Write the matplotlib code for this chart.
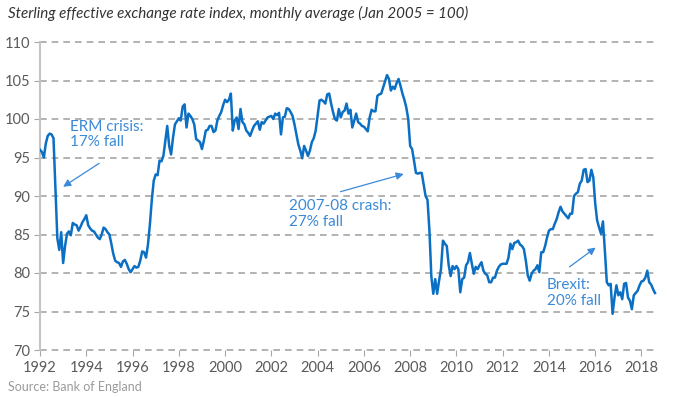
#!/usr/bin/env python3
"""
Sterling effective exchange rate index, monthly average (Jan 2005 = 100).
"""

import numpy as np
import matplotlib
matplotlib.use("Agg")
import matplotlib.pyplot as plt

# monthly values, Jan 1992 onwards
eri_1990s = [
    96.0, 95.7, 95.0, 96.8, 97.8, 98.1, 98.0, 97.5, 91.0, 84.5, 83.0, 85.3,   # 1992
    81.3, 83.5, 85.1, 85.4, 84.9, 86.5, 86.3, 86.2, 85.5, 86.0, 86.6, 87.0,   # 1993
    87.5, 86.2, 85.8, 85.5, 85.4, 85.0, 84.6, 84.4, 85.0, 85.9, 85.7, 85.3,   # 1994
    85.0, 83.8, 82.5, 81.6, 81.4, 81.3, 80.8, 81.5, 81.7, 81.2, 80.5, 80.1,   # 1995
    80.5, 80.9, 80.7, 80.8, 81.6, 82.8, 82.7, 82.0, 83.7, 86.3, 89.5, 92.0,   # 1996
    92.8, 92.7, 94.6, 94.5, 95.2, 97.2, 99.1, 96.5, 95.4, 97.6, 99.3, 99.7,   # 1997
    100.1, 99.8, 101.6, 101.9, 98.9, 100.7, 100.4, 100.0, 99.3, 97.4, 97.2, 97.0,  # 1998
    96.1, 97.2, 98.5, 98.6, 99.1, 99.1, 98.3, 98.5, 99.8, 100.4, 100.9, 101.8,     # 1999
]
eri_2000s = [
    102.5, 102.2, 102.5, 103.3, 98.5, 99.8, 100.2, 98.7, 101.3, 99.6, 99.3, 98.5,  # 2000
    98.2, 97.8, 98.5, 99.1, 99.4, 99.7, 98.6, 99.6, 99.4, 99.8, 100.2, 100.3,      # 2001
    100.4, 100.0, 100.7, 100.5, 100.8, 98.0, 100.2, 100.3, 101.4, 101.3, 100.9, 100.4,  # 2002
    99.3, 98.0, 96.7, 95.9, 94.9, 96.5, 95.9, 95.2, 95.9, 97.0, 97.5, 98.5,        # 2003
    100.5, 102.4, 102.5, 102.3, 102.0, 103.2, 103.3, 102.0, 100.9, 100.0, 99.8, 101.3,  # 2004
    100.2, 100.9, 101.1, 102.0, 100.7, 101.2, 98.9, 99.8, 100.7, 99.6, 99.4, 99.1,     # 2005
    99.0, 98.7, 98.4, 100.2, 101.2, 101.0, 101.0, 103.0, 103.2, 103.3, 104.1, 104.9,   # 2006
    105.7, 105.2, 103.7, 104.2, 103.9, 104.7, 105.2, 104.3, 103.3, 102.5, 101.5, 100.0,  # 2007
    96.5, 96.1, 94.6, 93.0, 92.9, 93.0, 93.0, 91.5, 90.0, 89.5, 85.5, 79.5,        # 2008
    77.3, 79.2, 77.3, 79.0, 80.5, 84.2, 83.8, 83.5, 81.0, 79.6, 80.9, 80.5,        # 2009
]
eri_2010s = [
    80.9, 80.5, 77.5, 79.2, 79.4, 81.0, 81.4, 82.6, 81.2, 79.9, 80.8, 80.5,   # 2010
    81.0, 81.4, 80.3, 79.9, 79.7, 78.8, 78.8, 79.4, 79.4, 80.3, 80.8, 81.1,   # 2011
    81.2, 81.2, 81.2, 82.0, 83.8, 83.1, 83.9, 84.0, 84.2, 83.7, 83.5, 83.1,   # 2012
    81.6, 79.7, 79.0, 79.9, 80.3, 80.5, 81.0, 80.1, 82.7, 82.7, 83.5, 84.6,   # 2013
    85.5, 85.7, 85.7, 86.4, 87.0, 87.9, 88.6, 88.0, 87.7, 87.4, 87.1, 87.7,   # 2014
    87.7, 90.0, 90.3, 90.5, 91.6, 92.0, 93.4, 93.5, 91.8, 92.0, 93.4, 92.4,   # 2015
    89.0, 86.8, 85.9, 85.1, 86.7, 82.9, 78.8, 78.4, 78.6, 74.7, 76.8, 78.4,   # 2016
    77.1, 77.5, 76.6, 78.6, 78.7, 76.8, 76.4, 75.3, 77.1, 77.4, 77.7, 78.4,   # 2017
    78.9, 79.0, 79.4, 80.3, 78.8, 78.5, 77.9, 77.4,                           # 2018
]

start_year = 1992
year_ticks = list(range(1992, 2019, 2))
y_ticks = [70, 75, 80, 85, 90, 95, 100, 105, 110]

line_blue = '#0b6fc4'
note_blue = '#3b8ad8'
tick_grey = '#5a5a5a'

values = np.array(eri_1990s + eri_2000s + eri_2010s)
dates = start_year + np.arange(len(values)) / 12.0

plt.rcParams['font.family'] = ['Lato', 'DejaVu Sans']

fig = plt.figure(figsize=(6.81, 3.97), dpi=100)
ax = fig.add_axes([40 / 681, 47 / 397, 617 / 681, 308 / 397])

x_end = 2018.67
ax.set_xlim(start_year, x_end)
ax.set_ylim(70, 110)

# dashed gridlines (the 70 line doubles as the x axis)
ax.hlines(y_ticks, start_year, x_end, colors='#a6a6a6', linewidth=1.2,
          linestyles=(0, (4, 3)), clip_on=False, zorder=1)

ax.plot(dates, values, color=line_blue, linewidth=1.8, zorder=3,
        solid_joinstyle='round')

for side in ['top', 'right', 'bottom']:
    ax.spines[side].set_visible(False)
ax.spines['left'].set_color('#c4c4c4')
ax.spines['left'].set_linewidth(1.5)

ax.set_xticks(year_ticks)
ax.set_yticks(y_ticks)
ax.tick_params(axis='x', length=4, color='#a6a6a6', labelsize=10.5,
               labelcolor=tick_grey, pad=4)
ax.tick_params(axis='y', length=4, color='#a6a6a6', labelsize=10.5,
               labelcolor=tick_grey, pad=3)

# annotations
ax.text(1993.3, 99.9, 'ERM crisis:\n17% fall', color=note_blue, fontsize=11,
        va='top', ha='left', linespacing=1.15)
ax.annotate('', xy=(1993.0, 91.2), xytext=(1994.56, 94.25),
            arrowprops=dict(arrowstyle='-|>', color=note_blue, lw=0.9,
                            mutation_scale=11, shrinkA=0, shrinkB=0))

ax.text(2002.77, 89.6, '2007-08 crash:\n27% fall', color=note_blue, fontsize=11,
        va='top', ha='left', linespacing=1.15)
ax.annotate('', xy=(2007.72, 92.86), xytext=(2004.99, 90.56),
            arrowprops=dict(arrowstyle='-|>', color=note_blue, lw=0.9,
                            mutation_scale=11, shrinkA=0, shrinkB=0))

ax.text(2013.9, 79.3, 'Brexit:\n20% fall', color=note_blue, fontsize=11,
        va='top', ha='left', linespacing=1.15)
ax.annotate('', xy=(2016.02, 83.3), xytext=(2014.89, 80.8),
            arrowprops=dict(arrowstyle='-|>', color=note_blue, lw=0.9,
                            mutation_scale=11, shrinkA=0, shrinkB=0))

fig.text(8 / 681, 1 - 13 / 397,
         'Sterling effective exchange rate index, monthly average (Jan 2005 = 100)',
         fontsize=10.9, style='italic', color='#333333', va='center', ha='left')
fig.text(8 / 681, 1 - 387 / 397, 'Source: Bank of England',
         fontsize=9, color='#9a9a9a', va='center', ha='left')

fig.savefig('out.png', dpi=100)
